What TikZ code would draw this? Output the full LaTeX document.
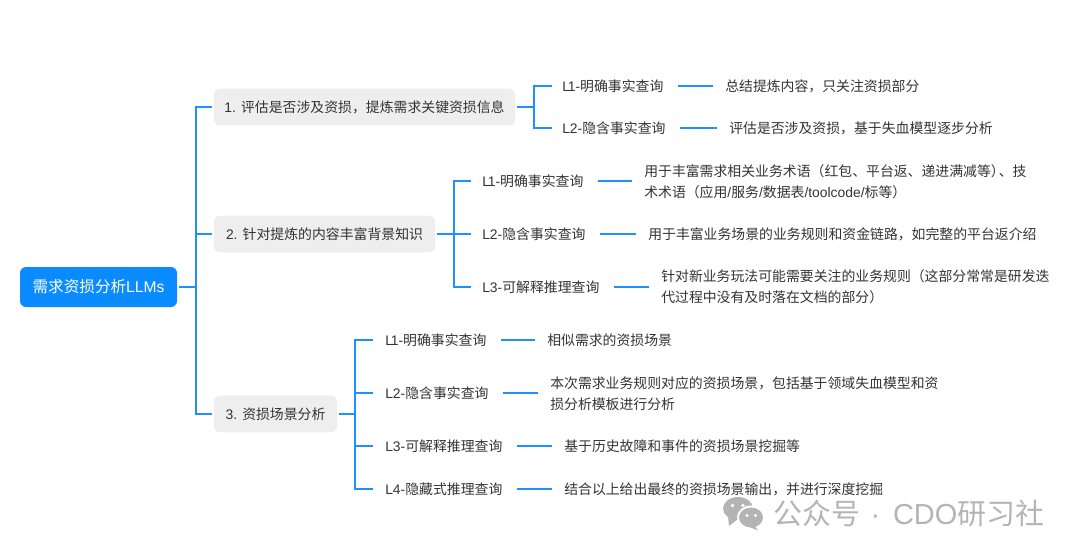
\documentclass[tikz,border=0pt]{standalone}
\usepackage{fontspec}
\setmainfont{Noto Sans CJK SC}
\newfontfamily\lat{Liberation Sans}
\newcommand{\la}[1]{{\lat #1}}
\newcommand{\lone}{{\lat L\kern-1.6pt 1-}}
\definecolor{blueline}{HTML}{1E90FF}
\definecolor{rootfill}{HTML}{0A8BFF}
\definecolor{boxfill}{HTML}{EEEEEE}
\definecolor{ink}{HTML}{333333}
\definecolor{wmgray}{HTML}{B4B4B4}
\begin{document}
\begin{tikzpicture}[x=0.75pt,y=-0.75pt,
  every node/.style={text=ink,font=\fontsize{10.4}{16}\selectfont},
  rootbox/.style={fill=rootfill,rounded corners=4.5pt,minimum width=117.75pt,minimum height=30pt,inner sep=0pt,text=white,font=\fontsize{11.7}{14}\selectfont},
  topicbox/.style={fill=boxfill,rounded corners=4.5pt,minimum height=27.5pt,inner sep=0pt},
  leaf/.style={inner sep=0pt,anchor=west,align=left},
  conn/.style={draw=blueline,line width=1.1pt},
  wm/.style={inner sep=0pt,anchor=west,text=wmgray,font=\fontsize{21.7}{24}\selectfont}]
\useasboundingbox (0,0) rectangle (1080,556);
% main nodes
\node[rootbox] (root) at (98.5,287) {需求资损分析\la{LLMs}};
\node[topicbox,minimum width=225.75pt] (t1) at (364.5,107) {\la{1. }评估是否涉及资损，提炼需求关键资损信息};
\node[topicbox,minimum width=165.75pt] (t2) at (324.5,234) {\la{2. }针对提炼的内容丰富背景知识};
\node[topicbox,minimum width=92.25pt] (t3) at (275.5,414) {\la{3. }资损场景分析};
% level 2
\node[leaf] (a1) at (562,86) {\lone 明确事实查询};
\node[leaf] (a2) at (562,128) {\la{L2-}隐含事实查询};
\node[leaf] (b1) at (482,181) {\lone 明确事实查询};
\node[leaf] (b2) at (482,234) {\la{L2-}隐含事实查询};
\node[leaf] (b3) at (482,287) {\la{L3-}可解释推理查询};
\node[leaf] (c1) at (385,340) {\lone 明确事实查询};
\node[leaf] (c2) at (385,393) {\la{L2-}隐含事实查询};
\node[leaf] (c3) at (385,446) {\la{L3-}可解释推理查询};
\node[leaf] (c4) at (385,489) {\la{L4-}隐藏式推理查询};
% level 3
\node[leaf] (a1d) at (725,86) {总结提炼内容，只关注资损部分};
\node[leaf] (a2d) at (729,128) {评估是否涉及资损，基于失血模型逐步分析};
\node[leaf] (b1d) at (644,181.5) {用于丰富需求相关业务术语（红包、平台返、递进满减等）\kern-4.5pt、技\\术术语（应用\la{/}服务\la{/}数据表\la{/toolcode/}标等）};
\node[leaf] (b2d) at (648,234) {用于丰富业务场景的业务规则和资金链路，如完整的平台返介绍};
\node[leaf] (b3d) at (661,287) {针对新业务玩法可能需要关注的业务规则（这部分常常是研发迭\\代过程中没有及时落在文档的部分）};
\node[leaf] (c1d) at (547,340) {相似需求的资损场景};
\node[leaf] (c2d) at (550,393.5) {本次需求业务规则对应的资损场景，包括基于领域失血模型和资\\损分析模板进行分析};
\node[leaf] (c3d) at (564,446) {基于历史故障和事件的资损场景挖掘等};
\node[leaf] (c4d) at (564,489) {结合以上给出最终的资损场景输出，并进行深度挖掘};
% junctions
\coordinate (j0) at (196,287);
\coordinate (j1) at (534,107);
\coordinate (j2) at (454,234);
\coordinate (j3) at (355,414);
% trunk connectors
\draw[conn,shorten <=1.5pt] (root.east) -- (j0);
\foreach \t in {t1,t2,t3} \draw[conn,shorten >=1pt] (j0) |- (\t.west);
\foreach \t/\j in {t1/j1,t2/j2,t3/j3} \draw[conn,shorten <=1.5pt] (\t.east) -- (\j);
\foreach \n in {a1,a2} \draw[conn,shorten >=7.5pt] (j1) |- (\n.west);
\foreach \n in {b1,b2,b3} \draw[conn,shorten >=8pt] (j2) |- (\n.west);
\foreach \n in {c1,c2,c3,c4} \draw[conn,shorten >=9pt] (j3) |- (\n.west);
% leaf connectors
\foreach \p/\q in {a1/a1d,a2/a2d,b1/b1d,b2/b2d,b3/b3d,c1/c1d,c2/c2d,c3/c3d,c4/c4d}
  \draw[conn,shorten <=10.5pt,shorten >=9pt] (\p.east) -- (\p.east -| \q.west);
% watermark
\fill[wmgray] (738,508.5) ellipse (15 and 11.5);
\fill[wmgray] (728,516) -- (729,526) -- (738,519) -- cycle;
\fill[white] (751,517.5) ellipse (14 and 12);
\fill[wmgray] (751,517.5) ellipse (12 and 10);
\fill[wmgray] (754,525) -- (758,530.5) -- (748,526.5) -- cycle;
\fill[white] (732.5,505.5) circle (1.9) (743,505.5) circle (1.9) (747,515.5) circle (1.6) (755.5,515.5) circle (1.6);
\node[wm] (brand) at (773,513) {公众号\hspace{8pt}\la{·}\hspace{9.5pt}\la{CDO}研习社};
\end{tikzpicture}
\end{document}
